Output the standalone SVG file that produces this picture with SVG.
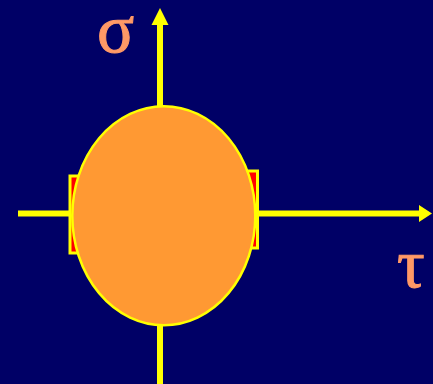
<svg xmlns="http://www.w3.org/2000/svg" width="433" height="384" viewBox="0 0 433 384">
<style>
.ax{stroke:#FFFF00;stroke-width:6;fill:none}
.ah{fill:#FFFF00}
.lbl{font-family:"Liberation Serif","DejaVu Serif",serif;font-size:69px;fill:#FF9966;stroke:#FF9966;stroke-width:1}
.pad{fill:#FF0000;stroke:#FFFF00;stroke-width:3}
</style>
<rect width="433" height="384" fill="#000066"/>
<g id="axes">
<line class="ax" x1="18" y1="213.5" x2="421" y2="213.5"/>
<polygon class="ah" points="419,205 432,213.5 419,222"/>
<line class="ax" x1="160" y1="384" x2="160" y2="23"/>
<polygon class="ah" points="151.5,25 160,8 168.5,25"/>
</g>
<g id="pad-left"><rect class="pad" x="70" y="176" width="40" height="77"/></g>
<g id="pad-right"><rect class="pad" x="218" y="171" width="39.5" height="77"/></g>
<g id="ellipse"><ellipse cx="163.8" cy="215.7" rx="91.5" ry="109.5" fill="#FF9933" stroke="#FFFF00" stroke-width="2.5"/></g>
<g id="label-sigma"><text class="lbl" x="97" y="52">σ</text></g>
<g id="label-tau"><text class="lbl" x="397" y="287">τ</text></g>
</svg>
